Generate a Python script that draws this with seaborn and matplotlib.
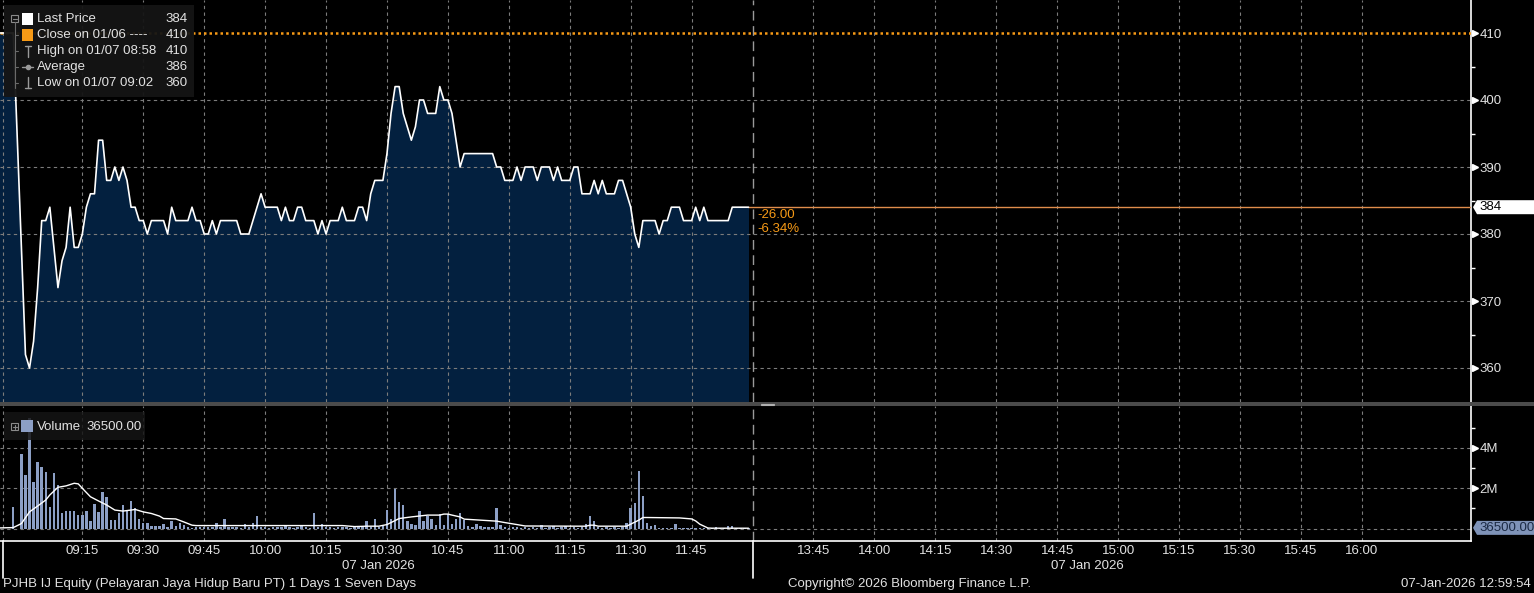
import numpy as np
import seaborn as sns
import matplotlib
matplotlib.use("Agg")
import matplotlib.pyplot as plt
import matplotlib.transforms as mtransforms
from matplotlib.patches import Rectangle, Polygon
from matplotlib.lines import Line2D

# Minutes are counted on the trading clock from 09:00, the 12:00-13:30 break is squeezed out
price_first_minute = -6
price = [410, 410, 410, 410, 410, 394, 378, 362, 360, 364,
         372, 382, 382, 384, 378, 372, 376, 378, 384, 378,
         378, 380, 384, 386, 386, 394, 394, 388, 388, 390,
         388, 390, 388, 384, 384, 382, 382, 380, 382, 382,
         382, 382, 380, 384, 382, 382, 382, 382, 384, 382,
         382, 380, 380, 382, 380, 382, 382, 382, 382, 382,
         380, 380, 380, 382, 384, 386, 384, 384, 384, 384,
         382, 384, 382, 382, 384, 384, 382, 382, 382, 380,
         382, 380, 382, 382, 382, 384, 382, 382, 382, 384,
         384, 382, 386, 388, 388, 388, 392, 398, 402, 402,
         398, 396, 394, 396, 400, 400, 398, 398, 398, 402,
         400, 400, 398, 394, 390, 392, 392, 392, 392, 392,
         392, 392, 392, 390, 390, 388, 388, 388, 390, 388,
         390, 390, 390, 388, 390, 390, 390, 388, 390, 388,
         388, 388, 390, 390, 386, 386, 386, 388, 386, 388,
         386, 386, 386, 388, 388, 386, 384, 380, 378, 382,
         382, 382, 382, 380, 382, 382, 384, 384, 384, 382,
         382, 382, 384, 382, 384, 382, 382, 382, 382, 382,
         382, 384, 384, 384, 384, 384]
price_minutes = np.arange(price_first_minute, price_first_minute + len(price))

# volume in millions of shares, one bar per minute
volume_first_minute = -2
volume = [1.08, 0, 3.72, 2.67, 5.5, 2.33, 3.33, 3.08, 2.83, 1.08,
          2.75, 2.17, 0.78, 0.87, 0.87, 0.87, 0.67, 0.67, 0.87, 0.38,
          1.22, 0.83, 1.8, 1.58, 0.45, 0.42, 0.78, 1.15, 0.9, 1.37,
          1.0, 0.5, 0.3, 0.3, 0.13, 0.13, 0.13, 0.25, 0.08, 0.38,
          0.13, 0.3, 0.17, 0.08, 0.05, 0.08, 0.1, 0.06, 0.08, 0.1,
          0.3, 0.08, 0.47, 0.1, 0.06, 0.08, 0.05, 0.25, 0.1, 0.3,
          0.62, 0.08, 0.1, 0.05, 0.08, 0.1, 0.06, 0.12, 0.08, 0.05,
          0.1, 0.2, 0.08, 0.05, 0.75, 0.1, 0.25, 0.06, 0.08, 0.05,
          0.1, 0.06, 0.08, 0.05, 0.1, 0.06, 0.08, 0.37, 0.1, 0.47,
          0.1, 0.15, 0.92, 0.5, 1.95, 1.3, 1.17, 0.37, 0.22, 0.2,
          0.87, 0.38, 0.62, 0.5, 0.17, 0.7, 0.17, 0.7, 0.22, 0.47,
          0.75, 0.42, 0.12, 0.08, 0.25, 0.13, 0.08, 0.08, 0.08, 1.0,
          0.17, 0.08, 0.05, 0.08, 0.06, 0.05, 0.08, 0.05, 0.06, 0.05,
          0.2, 0.05, 0.08, 0.13, 0.05, 0.08, 0.13, 0.05, 0.08, 0.05,
          0.08, 0.25, 0.62, 0.37, 0.08, 0.05, 0.06, 0.05, 0.08, 0.05,
          0.08, 0.28, 1.03, 1.28, 2.88, 1.62, 0.28, 0.13, 0.17, 0.05,
          0.05, 0.03, 0.03, 0.22, 0.02, 0.02, 0.02, 0.02, 0.02, 0.02,
          0.02, 0.02, 0.02, 0.08, 0.02, 0.02, 0.13, 0.13, 0.02, 0.02,
          0.02, 0.0365]
volume_minutes = np.arange(volume_first_minute, volume_first_minute + len(volume))

# volume moving average
ma_minutes = [-6, -2, 0, 2, 4, 6, 7, 9, 11, 13, 14, 15, 17, 19, 21, 23, 25, 27, 28, 30,
              32, 34, 35, 38, 40, 42, 43, 60, 79, 82, 85, 88, 90, 92, 93, 96, 100, 103,
              104, 105, 106, 108, 109, 113, 117, 119, 122, 124, 137, 139, 140, 141, 142,
              149, 150, 152, 153, 154, 162, 165, 166, 167, 169, 170, 179]
ma_values = [0.03, 0.05, 0.25, 0.83, 1.12, 1.42, 1.67, 2.05, 2.12, 2.25, 2.22, 2.0, 1.58,
             1.37, 1.17, 0.92, 0.87, 0.92, 0.95, 0.83, 0.75, 0.62, 0.5, 0.48, 0.33, 0.17,
             0.15, 0.15, 0.15, 0.1, 0.12, 0.12, 0.2, 0.4, 0.5, 0.58, 0.67, 0.67, 0.72,
             0.72, 0.67, 0.58, 0.47, 0.42, 0.37, 0.3, 0.2, 0.13, 0.12, 0.12, 0.17, 0.17,
             0.12, 0.12, 0.22, 0.42, 0.55, 0.55, 0.53, 0.48, 0.38, 0.22, 0.03, 0.02, 0.02]

prev_close = 410
last_price = 384
last_volume = 36500.00
legend_rows = ["Last Price", "Close on 01/06 ----", "High on 01/07 08:58", "Average", "Low on 01/07 09:02"]
legend_values = ["384", "410", "410", "386", "360"]

tick_minutes = [15, 30, 45, 60, 75, 90, 105, 120, 135, 150, 165,
                195, 210, 225, 240, 255, 270, 285, 300, 315, 330]
tick_labels = ["09:15", "09:30", "09:45", "10:00", "10:15", "10:30", "10:45", "11:00", "11:15", "11:30", "11:45",
               "13:45", "14:00", "14:15", "14:30", "14:45", "15:00", "15:15", "15:30", "15:45", "16:00"]
price_ticks = [360, 370, 380, 390, 400, 410]
price_minor = [365, 375, 385, 395, 405]
volume_ticks = [2, 4]
volume_minor = [1, 3, 5]
session_start = -4.6
lunch_break = 180

W, H = 1534, 593
NAVY = "#03203f"
GRID = "#7c7c7c"
TXT = "#e2e2e2"
ORANGE = "#f79a16"
BAR = "#8c9fc5"
FS = 9.5

sns.set_theme(style="dark", rc={"axes.facecolor": "black", "figure.facecolor": "black",
                                 "savefig.facecolor": "black", "axes.edgecolor": "white",
                                 "text.color": TXT})
plt.rcParams["font.family"] = ["Liberation Sans", "DejaVu Sans"]

fig = plt.figure(figsize=(W / 100, H / 100), dpi=100)
ax_p = fig.add_axes([0, 1 - 402 / H, 1471 / W, 402 / H])
ax_v = fig.add_axes([0, 1 - 541 / H, 1471 / W, (541 - 406) / H])

x_lo, x_hi = -21.4 / 4.062, (1471 - 21.4) / 4.062

# price panel
ax_p.fill_between(price_minutes, price, 340, color=NAVY, lw=0, zorder=1)
sns.lineplot(x=price_minutes, y=price, ax=ax_p, color="white", lw=1.2, zorder=4)
for m in tick_minutes + [session_start]:
    ax_p.axvline(m, color=GRID, lw=0.8, ls=(0, (3, 3)), zorder=2)
for p in price_ticks[:-1]:
    ax_p.axhline(p, color=GRID, lw=0.8, ls=(0, (3, 3)), zorder=2)
ax_p.axhline(prev_close, color=ORANGE, lw=1.8, ls=(0, (1, 1.2)), zorder=3)
ax_p.axvline(lunch_break, color="#9a9a9a", lw=1, ls=(0, (7, 4)), zorder=2)
ax_p.plot([price_minutes[-1], x_hi], [last_price, last_price], color="#e08d4c", lw=1, zorder=3)
chg = last_price - prev_close
ax_p.annotate(f"{chg:.2f}\n{chg / prev_close * 100:.2f}%", xy=(price_minutes[-1], last_price),
              xytext=(9, -2), textcoords="offset pixels", va="top", ha="left",
              color=ORANGE, fontsize=FS, linespacing=1.25)
ax_p.set_xlim(x_lo, x_hi)
ax_p.set_ylim(360 - 34 / 6.7, 410 + 33 / 6.7)

# volume panel
sns.barplot(x=volume_minutes, y=volume, ax=ax_v, native_scale=True, width=0.6,
            color=BAR, saturation=1, errorbar=None, linewidth=0, edgecolor="none", zorder=3)
sns.lineplot(x=ma_minutes, y=ma_values, ax=ax_v, color="white", lw=1, zorder=4)
for m in tick_minutes + [session_start]:
    ax_v.axvline(m, color=GRID, lw=0.8, ls=(0, (3, 3)), zorder=1)
for v in [0] + volume_ticks:
    ax_v.axhline(v, color=GRID, lw=0.8, ls=(0, (3, 3)), zorder=1)
ax_v.axvline(lunch_break, color="#9a9a9a", lw=1, ls=(0, (7, 4)), zorder=2)
ax_v.set_xlim(x_lo, x_hi)
ax_v.set_ylim(-(541 - 528.6) / 20.15, (528.6 - 406) / 20.15)

# axes styling
for ax in (ax_p, ax_v):
    ax.set(xlabel="", ylabel="")
    ax.grid(False)
    for s in ("top", "left", "bottom"):
        ax.spines[s].set_visible(False)
    ax.spines["right"].set_color("white")
    ax.spines["right"].set_linewidth(1.2)
    ax.yaxis.tick_right()
    ax.tick_params(axis="y", which="major", length=0, pad=6, labelcolor=TXT, labelsize=FS)
    ax.tick_params(axis="y", which="minor", length=3, width=1, color="white", direction="out")
ax_v.spines["bottom"].set_visible(True)
ax_v.spines["bottom"].set_color("white")
ax_v.spines["bottom"].set_linewidth(1.2)

ax_p.set_yticks(price_ticks, [str(t) for t in price_ticks])
ax_p.set_yticks(price_minor, minor=True)
ax_p.set_xticks([])
ax_v.set_yticks(volume_ticks, [f"{t}M" for t in volume_ticks])
ax_v.set_yticks(volume_minor, minor=True)
ax_v.set_xticks(tick_minutes, tick_labels)
ax_v.tick_params(axis="x", length=0, pad=3, labelcolor=TXT, labelsize=FS)

tri_p = mtransforms.offset_copy(ax_p.get_yaxis_transform(), fig=fig, x=4, y=0, units="dots")
ax_p.plot([1] * len(price_ticks), price_ticks, ls="none", marker=">", ms=5, color="white",
          transform=tri_p, clip_on=False)
tri_v = mtransforms.offset_copy(ax_v.get_yaxis_transform(), fig=fig, x=4, y=0, units="dots")
ax_v.plot([1] * len(volume_ticks), volume_ticks, ls="none", marker=">", ms=5, color="white",
          transform=tri_v, clip_on=False)


def box(x0, y0, x1, y1, **kw):
    fig.add_artist(Rectangle((x0 / W, 1 - y1 / H), (x1 - x0) / W, (y1 - y0) / H,
                             transform=fig.transFigure, **kw))


def seg(xs, ys, **kw):
    fig.add_artist(Line2D([x / W for x in xs], [1 - y / H for y in ys], transform=fig.transFigure, **kw))


def label(x, y, s, **kw):
    kw.setdefault("fontsize", FS)
    kw.setdefault("color", TXT)
    fig.text(x / W, 1 - y / H, s, va="center", **kw)


def badge(ax, value, text, face, tcolor):
    y = (ax.transData + fig.transFigure.inverted()).transform((0, value))[1] * H
    y = H - y
    pts = [(1473, y), (1477, y - 7), (1534, y - 7), (1534, y + 7), (1477, y + 7)]
    fig.add_artist(Polygon([(px / W, 1 - py / H) for px, py in pts], closed=True,
                           transform=fig.transFigure, fc=face, ec="none", zorder=6))
    label(1479, y, text, color=tcolor, zorder=7)


badge(ax_p, last_price, str(last_price), "white", "black")
badge(ax_v, last_volume / 1e6, f"{last_volume:.2f}", "#7f93b8", "#1b2a44")

# separator between the panels
box(0, 402, W, 406, fc="#4b4b4b", ec="none")
seg([761, 774], [403.5, 403.5], color="#b0b0b0", lw=0.8)
seg([761, 774], [405.2, 405.2], color="#b0b0b0", lw=0.8)

# tall ticks at the session edges
tall = mtransforms.blended_transform_factory(ax_v.transData, fig.transFigure)
for m in (session_start, lunch_break):
    fig.add_artist(Line2D([m, m], [1 - 541 / H, 1 - 578 / H], transform=tall, color="white", lw=1.2))

# price legend
box(4, 5, 194, 97, fc="#151515", ec="none", alpha=0.95, zorder=5)
row_y = [19, 35, 51, 67, 83]
for yy, name, val in zip(row_y, legend_rows, legend_values):
    label(37, yy, name, zorder=8)
    label(188, yy, val, ha="right", zorder=8)
box(22, 13, 33, 25, fc="white", ec="none", zorder=7)
box(22, 29, 33, 41, fc=ORANGE, ec="none", zorder=7)
icon = dict(color="#9a9a9a", lw=1, zorder=7)
seg([27.5, 27.5], [46, 57], **icon)
seg([24.5, 30.5], [46, 46], **icon)
seg([22, 33], [67, 67], **icon)
fig.add_artist(Line2D([27.5 / W], [1 - 67 / H], transform=fig.transFigure, marker="o", ms=3,
                      color="#9a9a9a", zorder=7))
seg([27.5, 27.5], [77, 88], **icon)
seg([24.5, 30.5], [88, 88], **icon)
box(11, 15, 18, 22, fc="none", ec="#8a8a8a", lw=0.8, zorder=7)
seg([12.5, 16.5], [18.5, 18.5], color="#8a8a8a", lw=0.8, zorder=7)
seg([14.5, 14.5], [22, 88], color="#6a6a6a", lw=0.8, zorder=7)
for yy in row_y[1:]:
    seg([14.5, 18], [yy, yy], color="#6a6a6a", lw=0.8, zorder=7)

# volume legend
box(4, 412, 145, 440, fc="#151515", ec="none", alpha=0.85, zorder=5)
box(11, 423, 18, 430, fc="none", ec="#8a8a8a", lw=0.8, zorder=7)
seg([12.5, 16.5], [426.5, 426.5], color="#8a8a8a", lw=0.8, zorder=7)
seg([14.5, 14.5], [424.5, 428.5], color="#8a8a8a", lw=0.8, zorder=7)
box(21, 420, 33, 432, fc=BAR, ec="none", zorder=7)
label(37, 426.5, "Volume", zorder=8)
label(86, 426.5, f"{last_volume:.2f}", zorder=8)

# footer texts
label(378, 566, "07 Jan 2026", ha="center")
label(1087, 566, "07 Jan 2026", ha="center")
label(3, 584, "PJHB IJ Equity (Pelayaran Jaya Hidup Baru PT) 1 Days 1 Seven Days")
label(788, 584, "Copyright\u00a9 2026 Bloomberg Finance L.P.")
label(1531, 584, "07-Jan-2026 12:59:54", ha="right")

fig.savefig("out.png", dpi=100, facecolor="black")
